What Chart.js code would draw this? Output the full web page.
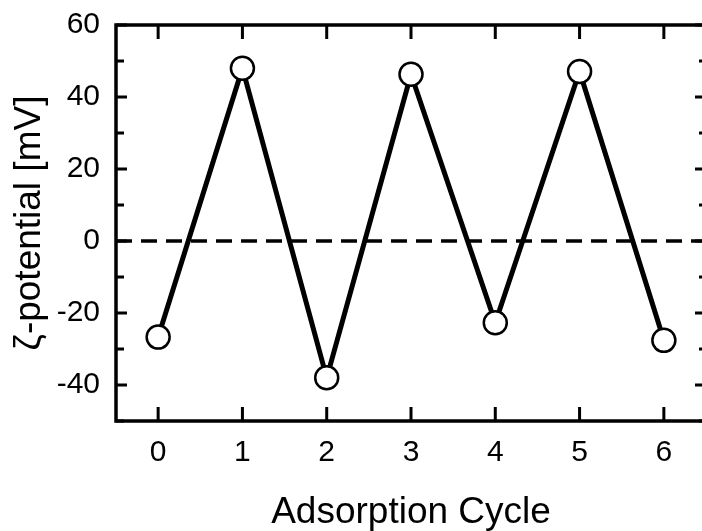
<!DOCTYPE html>
<html lang="en">

<head>
    <meta charset="UTF-8">
    <title>Zeta potential vs adsorption cycle</title>
    <script src="https://cdn.jsdelivr.net/npm/chart.js"></script>
    <style>
        html, body { margin: 0; padding: 0; background: #fff; overflow: hidden; }
        #zetaChart { position: absolute; left: 0; top: 0; }
    </style>
</head>

<body>
    <canvas id="zetaChart" width="720" height="531"></canvas>

    <script>
        // values
        const cycles = [0, 1, 2, 3, 4, 5, 6];
        const zeta = [-26.7, 48.0, -38.0, 46.3, -22.7, 47.1, -27.6];

        const xTicks = [0, 1, 2, 3, 4, 5, 6];
        const yTicks = [-40, -20, 0, 20, 40, 60];
        const yMinorTicks = [-50, -30, -10, 10, 30, 50];
        const xRange = [-0.5, 6.5];
        const yRange = [-50, 60];
        const zeroLine = [0, 0];

        const fontFamily = '"Liberation Sans", Arial, sans-serif';

        // inward tick marks + frame, drawn from the scales
        const frameTicks = {
            id: 'frameTicks',
            afterDraw(chart) {
                const { ctx, chartArea: a, scales: { x, y } } = chart;
                ctx.save();
                ctx.strokeStyle = '#000';
                ctx.lineWidth = 3.5;
                ctx.lineCap = 'butt';
                ctx.beginPath();
                ctx.rect(a.left, a.top, a.right - a.left, a.bottom - a.top);
                ctx.stroke();

                ctx.lineWidth = 3;
                ctx.beginPath();
                xTicks.forEach(v => {
                    const px = x.getPixelForValue(v);
                    ctx.moveTo(px, a.bottom); ctx.lineTo(px, a.bottom - 14);
                    ctx.moveTo(px, a.top); ctx.lineTo(px, a.top + 14);
                });
                yTicks.forEach(v => {
                    const py = y.getPixelForValue(v);
                    ctx.moveTo(a.left, py); ctx.lineTo(a.left + 11, py);
                    ctx.moveTo(a.right, py); ctx.lineTo(a.right - 11, py);
                });
                yMinorTicks.forEach(v => {
                    const py = y.getPixelForValue(v);
                    ctx.moveTo(a.left, py); ctx.lineTo(a.left + 8, py);
                    ctx.moveTo(a.right, py); ctx.lineTo(a.right - 7, py);
                });
                ctx.stroke();
                ctx.restore();
            }
        };

        const ctx = document.getElementById('zetaChart').getContext('2d');
        new Chart(ctx, {
            type: 'line',
            data: {
                datasets: [{
                    label: 'zeta potential',
                    data: cycles.map((c, i) => ({ x: c, y: zeta[i] })),
                    borderColor: '#000',
                    borderWidth: 5,
                    pointRadius: 11.5,
                    pointBorderWidth: 2.5,
                    pointBackgroundColor: '#fff',
                    pointBorderColor: '#000',
                    tension: 0,
                    order: 1
                }, {
                    label: 'zero',
                    data: xRange.map((v, i) => ({ x: v, y: zeroLine[i] })),
                    borderColor: '#000',
                    borderWidth: 3.5,
                    borderDash: [16, 9],
                    pointRadius: 0,
                    order: 2
                }]
            },
            options: {
                responsive: false,
                animation: false,
                layout: { padding: { top: 25, right: 12, left: 0, bottom: 0 } },
                plugins: { legend: { display: false }, tooltip: { enabled: false } },
                scales: {
                    x: {
                        type: 'linear',
                        min: xRange[0],
                        max: xRange[1],
                        afterBuildTicks: s => { s.ticks = xTicks.map(v => ({ value: v })); },
                        afterFit: s => { s.height = 110; },
                        grid: { display: false, drawTicks: false },
                        border: { display: false },
                        ticks: {
                            color: '#000',
                            padding: 14,
                            font: { family: fontFamily, size: 30 },
                            callback: v => String(v)
                        },
                        title: {
                            display: true,
                            text: 'Adsorption Cycle',
                            color: '#000',
                            font: { family: fontFamily, size: 37, lineHeight: 1 },
                            padding: { top: 0, bottom: 0 }
                        }
                    },
                    y: {
                        min: yRange[0],
                        max: yRange[1],
                        afterBuildTicks: s => { s.ticks = yTicks.map(v => ({ value: v })); },
                        afterFit: s => {
                            s.width = 116;
                            // let the "60" label overflow the top instead of pushing the plot down
                            s.paddingTop = 0;
                            s.paddingBottom = 0;
                        },
                        grid: { display: false, drawTicks: false },
                        border: { display: false },
                        ticks: {
                            color: '#000',
                            padding: 16,
                            autoSkip: false,
                            font: { family: fontFamily, size: 30 },
                            callback: v => String(v)
                        },
                        title: {
                            display: true,
                            text: 'ζ-potential [mV]',
                            color: '#000',
                            font: { family: fontFamily, size: 37, lineHeight: 1 },
                            padding: { top: 11, bottom: 0 }
                        }
                    }
                }
            },
            plugins: [frameTicks]
        });
    </script>
</body>

</html>
